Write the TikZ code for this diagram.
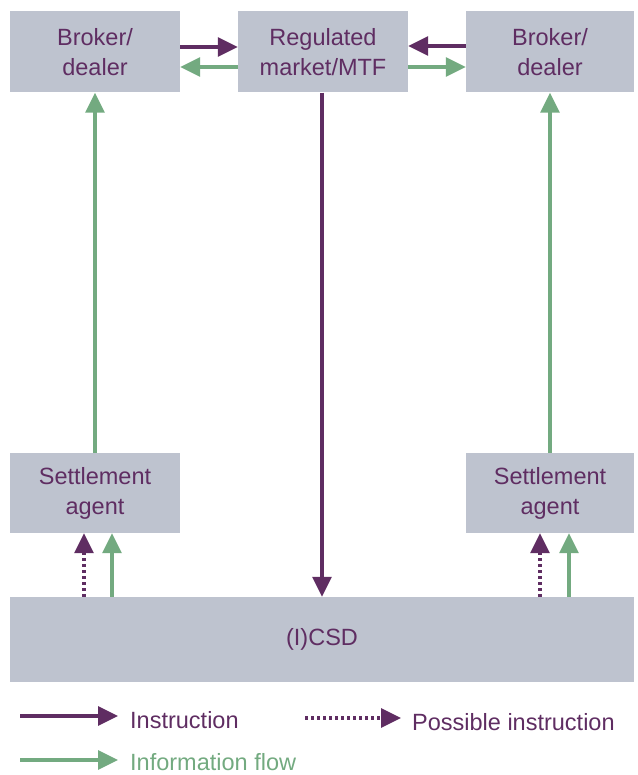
\documentclass[tikz,border=0pt]{standalone}
\usepackage{fontspec}
\setmainfont{Liberation Sans}
\usetikzlibrary{arrows.meta}
\definecolor{boxgrey}{HTML}{BEC3CF}
\definecolor{instr}{HTML}{5F2D62}
\definecolor{info}{HTML}{73AA80}
\begin{document}
\begin{tikzpicture}[x=1pt,y=-1pt,
  block/.style={fill=boxgrey, draw=none, text=instr, align=center, inner sep=0pt,
    font=\fontsize{23.5}{30}\selectfont},
  tip/.style={-{Triangle[length=20pt,width=19pt]}},
  instrarrow/.style={tip, draw=instr, line width=3.2pt, color=instr},
  possarrow/.style={tip, draw=instr, line width=3.2pt, color=instr, dash pattern=on 3pt off 3pt},
  infoarrow/.style={tip, draw=info, line width=3.2pt, color=info},
  legendtext/.style={anchor=west, inner sep=0pt, font=\fontsize{23.5}{28}\selectfont}]
\useasboundingbox (0,0) rectangle (637,775);

% Boxes
\node[block, minimum width=170pt, minimum height=81pt] (bdl) at (95,52) {Broker/\\dealer};
\node[block, minimum width=170pt, minimum height=81pt] (rm) at (323,52) {Regulated\\market/MTF};
\node[block, minimum width=168pt, minimum height=81pt] (bdr) at (550,52) {Broker/\\dealer};
\node[block, minimum width=170pt, minimum height=80pt] (sal) at (95,493) {Settlement\\agent};
\node[block, minimum width=168pt, minimum height=80pt] (sar) at (550,493) {Settlement\\agent};
\node[block, minimum width=624pt, minimum height=85pt] (csd) at (322,639.5) {(I)CSD};

% Trading flows at the top
\draw[instrarrow] (bdl.east |- 0,47) -- (rm.west |- 0,47);
\draw[infoarrow] (rm.west |- 0,67) -- (bdl.east |- 0,67);
\draw[instrarrow] (bdr.west |- 0,46) -- (rm.east |- 0,46);
\draw[infoarrow] (rm.east |- 0,67) -- (bdr.west |- 0,67);

% Information up from settlement agents to brokers
\draw[infoarrow] (sal.north) -- (bdl.south);
\draw[infoarrow] (sar.north) -- (bdr.south);

% Instruction from market down to the (I)CSD
\draw[instrarrow] (rm.south -| 322,0) -- (csd.north -| 322,0);

% Flows from the (I)CSD to settlement agents
\draw[possarrow] (csd.north -| 84,0) -- (sal.south -| 84,0);
\draw[infoarrow] (csd.north -| 112,0) -- (sal.south -| 112,0);
\draw[possarrow] (csd.north -| 540,0) -- (sar.south -| 540,0);
\draw[infoarrow] (csd.north -| 569,0) -- (sar.south -| 569,0);

% Legend
\coordinate (l1a) at (20,716);
\coordinate (l1b) at (118,716);
\coordinate (l2a) at (305,718);
\coordinate (l2b) at (401,718);
\coordinate (l3a) at (20,760);
\coordinate (l3b) at (118,760);
\draw[instrarrow] (l1a) -- (l1b);
\node[legendtext, text=instr] (t1) at (130,720) {Instruction};
\draw[possarrow] (l2a) -- (l2b);
\node[legendtext, text=instr] (t2) at (412,722) {Possible instruction};
\draw[infoarrow] (l3a) -- (l3b);
\node[legendtext, text=info] (t3) at (130,762) {Information flow};
\end{tikzpicture}
\end{document}
